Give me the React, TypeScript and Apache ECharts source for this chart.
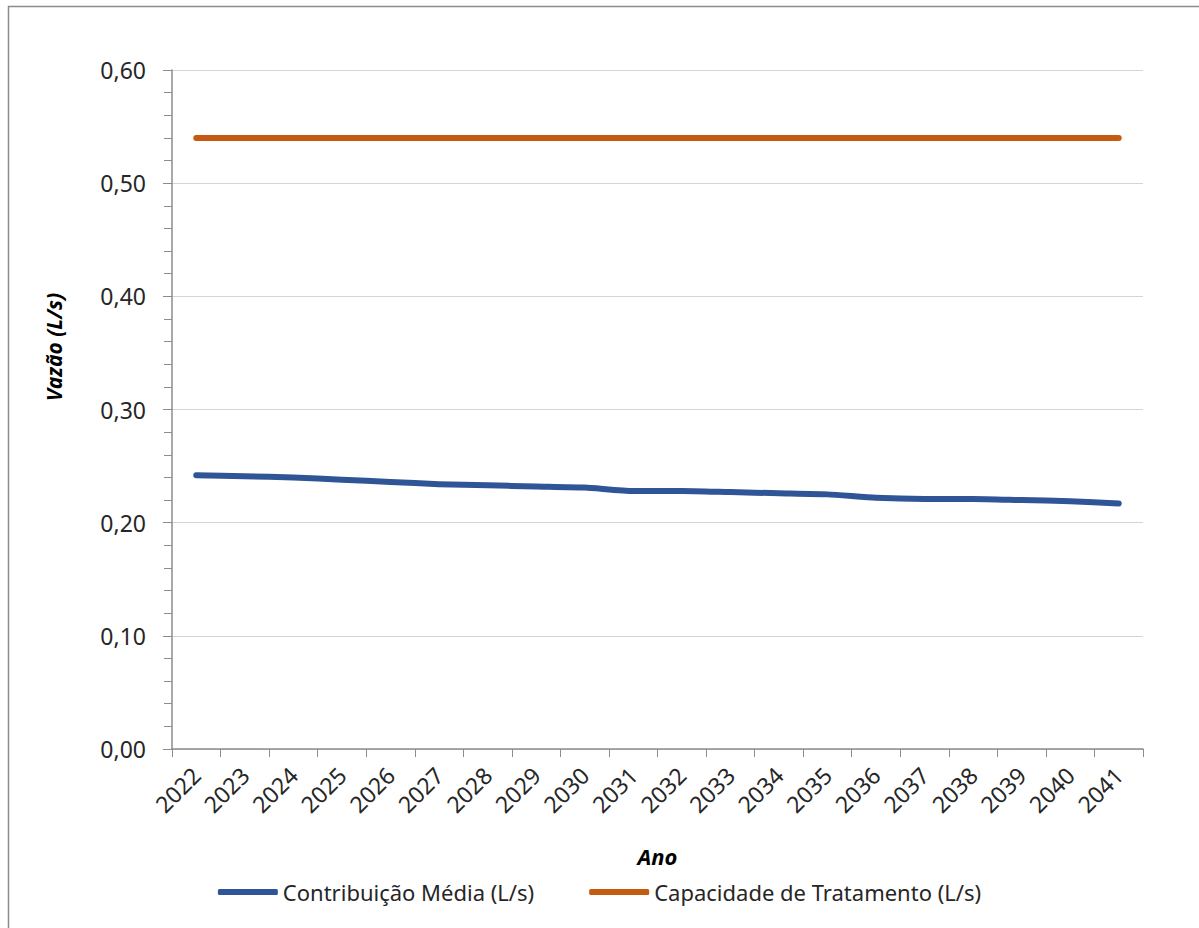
import React, { useEffect, useRef } from "react";
import * as echarts from "echarts";

const years = [
  "2022", "2023", "2024", "2025", "2026", "2027", "2028", "2029", "2030", "2031",
  "2032", "2033", "2034", "2035", "2036", "2037", "2038", "2039", "2040", "2041",
];
const contribuicaoMedia = [
  0.242, 0.241, 0.240, 0.238, 0.236, 0.234, 0.233, 0.232, 0.231, 0.228,
  0.228, 0.227, 0.226, 0.225, 0.222, 0.221, 0.221, 0.220, 0.219, 0.217,
];
const capacidadeTratamento = [
  0.54, 0.54, 0.54, 0.54, 0.54, 0.54, 0.54, 0.54, 0.54, 0.54,
  0.54, 0.54, 0.54, 0.54, 0.54, 0.54, 0.54, 0.54, 0.54, 0.54,
];
const seriesNames = ["Contribuição Média (L/s)", "Capacidade de Tratamento (L/s)"];
const yAxisTitle = "Vazão (L/s)";
const xAxisTitle = "Ano";

const FONT = "Noto Sans";

export default function App() {
  const ref = useRef<HTMLDivElement>(null);
  useEffect(() => {
    if (!ref.current) return;
    const chart = echarts.init(ref.current, undefined, { renderer: "svg" });
    chart.setOption({
      animation: false,
      backgroundColor: "#ffffff",
      textStyle: { fontFamily: FONT },
      graphic: [
        {
          type: "rect",
          shape: { x: 8.5, y: 6.5, width: 1300, height: 1000 },
          style: { fill: "none", stroke: "#8c8c8c", lineWidth: 1.5 },
          silent: true,
        },
        {
          type: "text",
          x: 54,
          y: 347,
          rotation: Math.PI / 2,
          style: {
            text: yAxisTitle,
            fontFamily: FONT,
            fontSize: 21,
            fontWeight: "bold",
            fontStyle: "italic",
            fill: "#000",
            align: "center",
            verticalAlign: "middle",
          },
          silent: true,
        },
      ],
      grid: { left: 172, right: 56, top: 70, bottom: 179, containLabel: false },
      legend: {
        bottom: 20,
        left: "center",
        itemWidth: 60,
        itemHeight: 6,
        itemGap: 55,
        icon: "roundRect",
        textStyle: { fontFamily: FONT, fontSize: 22, color: "#262626" },
        data: seriesNames,
      },
      xAxis: {
        type: "category",
        data: years,
        boundaryGap: true,
        name: xAxisTitle,
        nameLocation: "middle",
        nameGap: 96,
        nameTextStyle: { fontFamily: FONT, fontSize: 22, fontWeight: "bold", fontStyle: "italic", color: "#000" },
        axisLine: { lineStyle: { color: "#8c8c8c", width: 1.5 } },
        axisTick: { show: true, length: 8, alignWithLabel: false, lineStyle: { color: "#8c8c8c" } },
        axisLabel: { rotate: 45, fontSize: 23, color: "#262626", margin: 22, interval: 0 },
        splitLine: { show: false },
      },
      yAxis: {
        type: "value",
        min: 0,
        max: 0.6,
        interval: 0.1,
        axisLine: { show: true, lineStyle: { color: "#8c8c8c", width: 1.5 } },
        axisTick: { show: true, length: 9, lineStyle: { color: "#8c8c8c" } },
        minorTick: { show: true, splitNumber: 5, length: 8, lineStyle: { color: "#8c8c8c" } },
        axisLabel: {
          fontSize: 23,
          color: "#262626",
          margin: 26,
          formatter: (v: number) => v.toFixed(2).replace(".", ","),
        },
        splitLine: { show: true, lineStyle: { color: "#d4d4d4", width: 1.2 } },
      },
      series: [
        {
          name: seriesNames[0],
          type: "line",
          data: contribuicaoMedia,
          symbol: "none",
          smooth: 0.2,
          itemStyle: { color: "#2F5597" },
          lineStyle: { color: "#2F5597", width: 6, cap: "round", join: "round" },
        },
        {
          name: seriesNames[1],
          type: "line",
          data: capacidadeTratamento,
          symbol: "none",
          itemStyle: { color: "#C55A11" },
          lineStyle: { color: "#C55A11", width: 6, cap: "round" },
        },
      ],
    });
    return () => chart.dispose();
  }, []);
  return (
    <div
      ref={ref}
      style={{ position: "fixed", left: 0, top: 0, width: 1199, height: 928 }}
    />
  );
}
